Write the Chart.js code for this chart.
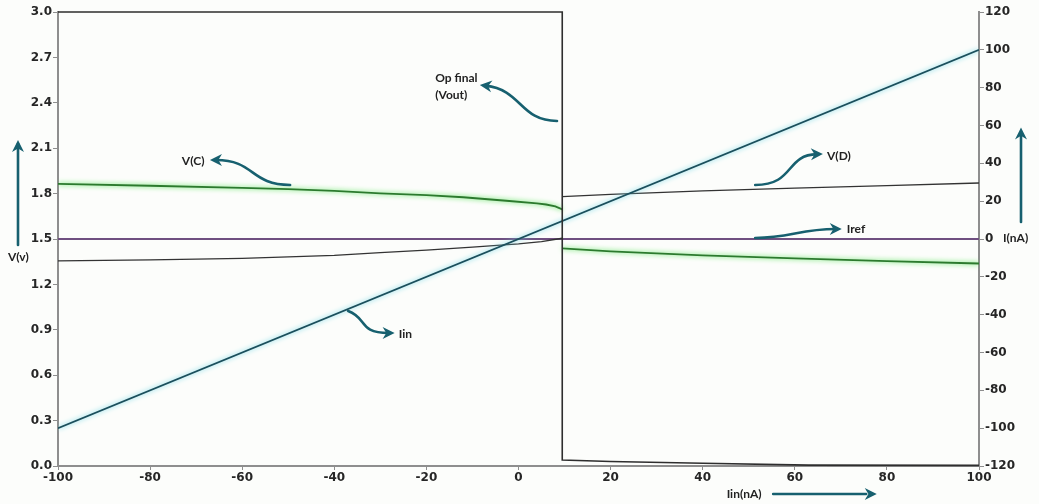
<!DOCTYPE html>
<html>
<head>
<meta charset="utf-8">
<script src="https://cdn.jsdelivr.net/npm/chart.js@4.4.1/dist/chart.umd.min.js"></script>
<style>
  html, body { margin: 0; padding: 0; background: #fcfdfb; }
  #wrap { width: 1039px; height: 504px; position: relative; }
  canvas { display: block; }
</style>
</head>
<body>
<div id="wrap"><canvas id="c" width="1039" height="504"></canvas></div>
<script>
// Input current sweep Iin (nA) and the circuit's node voltages (V)
const sweepLow  = [-100, -80, -60, -50, -40, -30, -20, -12, -2, 4, 6, 8, 9.5];
const sweepHigh = [9.5, 20, 40, 60, 80, 100];

const vcLow  = [1.864, 1.852, 1.838, 1.830, 1.818, 1.802, 1.790, 1.776, 1.751, 1.736, 1.728, 1.715, 1.696];
const vcHigh = [1.438, 1.418, 1.392, 1.372, 1.354, 1.338];

const vdSweepLow = [-100, -80, -60, -40, -30, -20, -10, 0, 5, 9.5];
const vdLow  = [1.355, 1.362, 1.372, 1.392, 1.410, 1.426, 1.446, 1.468, 1.483, 1.505];
const vdHigh = [1.780, 1.795, 1.818, 1.836, 1.853, 1.870];

const voutSweep = [-100, 9.5, 9.5, 20, 40, 63, 100];
const vout      = [3.0, 3.0, 0.04, 0.03, 0.018, 0.006, 0.004];

const currentSweep = [-100, 100];
const iinCurrent   = [-100, 100];
const irefCurrent  = [0, 0];

// Tick labels
const sweepTicks   = [-100, -80, -60, -40, -20, 0, 20, 40, 60, 80, 100];
const voltTicks    = ['0.0', '0.3', '0.6', '0.9', '1.2', '1.5', '1.8', '2.1', '2.4', '2.7', '3.0'];
const currentTicks = [-120, -100, -80, -60, -40, -20, 0, 20, 40, 60, 80, 100, 120];

// Callout labels with curved arrows: text anchor and bezier path in (Iin, V)
const callouts = [
  { lines: ['Op final', '(Vout)'], at: [-18.1, 2.564],
    path: [[8.36, 2.280], [0.33, 2.280], [0.76, 2.485], [-8.4, 2.518]] },
  { lines: ['V(C)'], at: [-73.1, 2.017],
    path: [[-49.6, 1.857], [-58.3, 1.857], [-57.2, 2.022], [-67.0, 2.022]] },
  { lines: ['V(D)'], at: [67.0, 2.048],
    path: [[51.4, 1.857], [60.0, 1.857], [57.9, 2.055], [66.1, 2.062]] },
  { lines: ['Iref'], at: [71.3, 1.566],
    path: [[51.4, 1.507], [59.0, 1.507], [61.1, 1.566], [70.2, 1.566]] },
  { lines: ['Iin'], at: [-26.0, 0.872],
    path: [[-37.0, 1.024], [-32.7, 0.978], [-34.9, 0.879], [-26.9, 0.879]] }
];

const toPoints = (xs, ys) => xs.map((x, i) => ({ x, y: ys[i] }));
const gap = { x: 9.5, y: null };

const ARROW = '#17606f';
const LABEL_FONT = 'bold 12px Lato, "Open Sans", sans-serif';

function arrowHead(ctx, tipX, tipY, fromX, fromY, len, half) {
  const a = Math.atan2(tipY - fromY, tipX - fromX);
  ctx.beginPath();
  ctx.moveTo(tipX, tipY);
  ctx.lineTo(tipX - len * Math.cos(a) + half * Math.sin(a), tipY - len * Math.sin(a) - half * Math.cos(a));
  ctx.lineTo(tipX - len * 0.7 * Math.cos(a), tipY - len * 0.7 * Math.sin(a));
  ctx.lineTo(tipX - len * Math.cos(a) - half * Math.sin(a), tipY - len * Math.sin(a) + half * Math.cos(a));
  ctx.closePath();
  ctx.fill();
}

const glowPlugin = {
  id: 'glow',
  beforeDatasetDraw(chart, args) {
    const glow = chart.data.datasets[args.index].glow;
    if (!glow) return;
    chart.ctx.save();
    chart.ctx.shadowColor = glow;
    chart.ctx.shadowBlur = 5;
  },
  afterDatasetDraw(chart, args) {
    if (chart.data.datasets[args.index].glow) chart.ctx.restore();
  }
};

const calloutPlugin = {
  id: 'callouts',
  afterDraw(chart) {
    const { ctx, chartArea: area, scales: { x, y, y2 } } = chart;
    const px = v => x.getPixelForValue(v);
    const py = v => y.getPixelForValue(v);
    ctx.save();
    ctx.strokeStyle = ARROW;
    ctx.fillStyle = ARROW;
    ctx.lineWidth = 2.6;
    ctx.lineCap = 'round';

    callouts.forEach(c => {
      const p = c.path.map(([a, b]) => [px(a), py(b)]);
      // shorten the curve so it ends under the arrowhead
      const dx = p[3][0] - p[2][0], dy = p[3][1] - p[2][1];
      const d = Math.hypot(dx, dy) || 1;
      const endX = p[3][0] - dx / d * 6, endY = p[3][1] - dy / d * 6;
      ctx.beginPath();
      ctx.moveTo(p[0][0], p[0][1]);
      ctx.bezierCurveTo(p[1][0], p[1][1], p[2][0], p[2][1], endX, endY);
      ctx.stroke();
      arrowHead(ctx, p[3][0], p[3][1], p[2][0], p[2][1], 12, 6);

      ctx.fillStyle = '#222';
      ctx.font = LABEL_FONT;
      ctx.textAlign = 'left';
      ctx.textBaseline = 'middle';
      c.lines.forEach((t, i) => ctx.fillText(t, px(c.at[0]), py(c.at[1]) + i * 17));
      ctx.fillStyle = ARROW;
    });

    // axis direction arrows and unit labels
    const lx = area.left - 40;
    ctx.beginPath(); ctx.moveTo(lx, py(1.46)); ctx.lineTo(lx, py(2.13)); ctx.stroke();
    arrowHead(ctx, lx, py(2.154), lx, py(1.46), 12, 6);

    const rx = area.right + 42;
    const ry = v => y2.getPixelForValue(v);
    ctx.beginPath(); ctx.moveTo(rx, ry(9)); ctx.lineTo(rx, ry(56)); ctx.stroke();
    arrowHead(ctx, rx, ry(59), rx, ry(9), 12, 6);

    const by = area.bottom + 28;
    ctx.beginPath(); ctx.moveTo(px(55.3), by); ctx.lineTo(px(75.5), by); ctx.stroke();
    arrowHead(ctx, px(77.8), by, px(55.3), by, 12, 6);

    ctx.fillStyle = '#222';
    ctx.font = LABEL_FONT;
    ctx.textAlign = 'left';
    ctx.textBaseline = 'middle';
    ctx.fillText('V(v)', area.left - 50, py(1.381));
    ctx.fillText('I(nA)', area.right + 24, ry(0.5));
    ctx.fillText('Iin(nA)', px(45.2), by);
    ctx.restore();
  }
};

const tickFont = { family: '"DejaVu Sans", Verdana, sans-serif', size: 12, weight: 'bold' };
const axisGrey = '#8e8e8e';

new Chart(document.getElementById('c'), {
  type: 'line',
  data: {
    datasets: [
      { label: 'Vout', data: toPoints(voutSweep, vout), yAxisID: 'y',
        borderColor: '#2e2e2e', borderWidth: 1.6, clip: false },
      { label: 'Iin', data: toPoints(currentSweep, iinCurrent), yAxisID: 'y2',
        borderColor: '#1b4f5c', borderWidth: 1.8, glow: 'rgba(110,215,230,1)' },
      { label: 'V(C)', data: [...toPoints(sweepLow, vcLow), gap, ...toPoints(sweepHigh, vcHigh)], yAxisID: 'y',
        borderColor: '#2c7a2e', borderWidth: 1.8, glow: 'rgba(70,225,70,1)', spanGaps: false },
      { label: 'V(D)', data: [...toPoints(vdSweepLow, vdLow), gap, ...toPoints(sweepHigh, vdHigh)], yAxisID: 'y',
        borderColor: '#333333', borderWidth: 1.3, spanGaps: false },
      { label: 'Iref', data: toPoints(currentSweep, irefCurrent), yAxisID: 'y2',
        borderColor: '#6f4f80', borderWidth: 2 }
    ]
  },
  options: {
    responsive: false,
    maintainAspectRatio: false,
    animation: false,
    devicePixelRatio: 1,
    layout: { padding: { top: 12, left: 0, right: 0, bottom: 0 } },
    elements: { point: { radius: 0 }, line: { tension: 0 } },
    plugins: { legend: { display: false }, tooltip: { enabled: false } },
    scales: {
      x: {
        type: 'linear', min: -100, max: 100,
        afterBuildTicks: s => { s.ticks = sweepTicks.map(v => ({ value: v })); },
        afterFit: s => { s.height = 38; },
        ticks: { font: tickFont, color: '#262626', padding: 1, maxRotation: 0, autoSkip: false,
                 callback: v => String(v) },
        grid: { drawOnChartArea: false, drawTicks: true, tickLength: 4, color: axisGrey },
        border: { display: true, color: axisGrey, width: 2 }
      },
      y: {
        type: 'linear', position: 'left', min: 0, max: 3,
        afterBuildTicks: s => { s.ticks = voltTicks.map(v => ({ value: parseFloat(v) })); },
        afterFit: s => { s.width = 58; },
        ticks: { font: tickFont, color: '#262626', padding: 1, autoSkip: false,
                 callback: (v, i) => voltTicks[i] },
        grid: { drawOnChartArea: false, drawTicks: true, tickLength: 5, color: axisGrey },
        border: { display: true, color: axisGrey, width: 2 }
      },
      y2: {
        type: 'linear', position: 'right', min: -120, max: 120,
        afterBuildTicks: s => { s.ticks = currentTicks.map(v => ({ value: v })); },
        afterFit: s => { s.width = 60; },
        ticks: { font: tickFont, color: '#262626', padding: 1, autoSkip: false, callback: v => String(v) },
        grid: { drawOnChartArea: false, drawTicks: true, tickLength: 5, color: axisGrey },
        border: { display: true, color: axisGrey, width: 2 }
      }
    }
  },
  plugins: [glowPlugin, calloutPlugin]
});
</script>
</body>
</html>
